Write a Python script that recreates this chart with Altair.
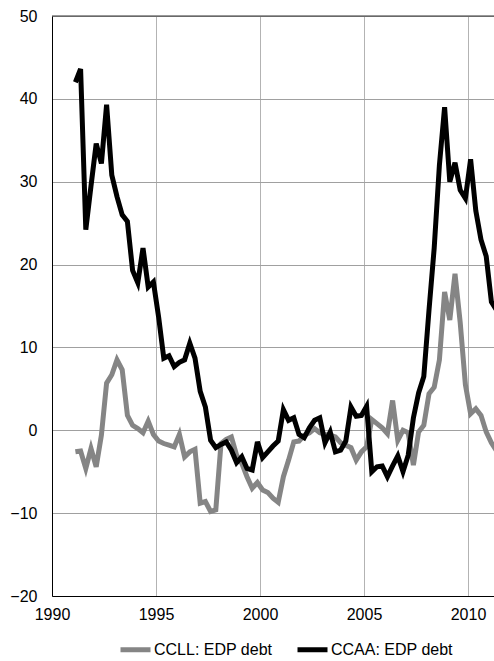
import altair as alt
import pandas as pd

series_names = ["CCLL: EDP debt", "CCAA: EDP debt"]

# quarterly observations, 1991Q1 onward
ccaa = [42.0, 43.6, 24.2, 29.5, 34.6, 32.2, 39.3, 30.8, 28.2, 26.0,
        25.2, 19.3, 17.8, 22.0, 17.3, 17.9, 13.7, 8.7, 9.0, 7.7,
        8.2, 8.5, 10.5, 8.7, 4.7, 2.8, -1.2, -2.1, -1.7, -1.4,
        -2.4, -3.9, -3.2, -4.6, -4.8, -1.4, -3.3, -2.6, -1.9, -1.3,
        2.5, 1.2, 1.5, -0.5, -0.9, 0.3, 1.2, 1.5, -1.5, -0.2,
        -2.6, -2.4, -1.3, 2.8, 1.7, 1.8, 2.9, -5.0, -4.4, -4.3,
        -5.6, -4.3, -3.1, -5.0, -3.0, 1.5, 4.5, 6.5, 14.5, 22.0,
        32.0, 39.0, 30.0, 32.3, 29.0, 28.0, 32.7, 26.5, 23.0, 21.0,
        15.5, 14.5]

ccll = [-2.6, -2.5, -4.6, -2.2, -4.4, -0.6, 5.7, 6.7, 8.5, 7.3,
        1.8, 0.6, 0.2, -0.3, 1.1, -0.5, -1.3, -1.6, -1.8, -2.0,
        -0.5, -3.2, -2.6, -2.3, -8.8, -8.6, -9.8, -9.6, -1.6, -1.1,
        -0.8, -3.0, -4.0, -5.6, -7.0, -6.3, -7.2, -7.5, -8.2, -8.7,
        -5.6, -3.6, -1.4, -1.3, -0.6, -0.3, 0.2, -0.3, -0.5, -0.6,
        -0.8, -1.5, -1.8, -2.1, -3.6, -2.6, -2.0, 1.3, 0.8, 0.3,
        -0.4, 3.6, -1.2, 0.0, -0.3, -4.2, -0.2, 0.6, 4.4, 5.2,
        8.5, 16.7, 13.3, 18.9, 13.0, 5.5, 2.0, 2.6, 1.8, -0.2,
        -1.5, -2.5]

quarters = [f"{1991 + i // 4}Q{i % 4 + 1}" for i in range(len(ccaa))]

x_ticks = [1990, 1995, 2000, 2005, 2010]
y_ticks = [-20, -10, 0, 10, 20, 30, 40, 50]


def qpos(q):
    y, n = q.split("Q")
    return int(y) + (int(n) - 1) / 4 + 0.125


rows = []
for q, a, l in zip(quarters, ccaa, ccll):
    rows.append({"t": qpos(q), "v": l, "series": series_names[0]})
    rows.append({"t": qpos(q), "v": a, "series": series_names[1]})
df = pd.DataFrame(rows)

FONT = "Liberation Sans"

xscale = alt.Scale(domain=[1990, 2011.25], nice=False, zero=False)
yscale = alt.Scale(domain=[-20, 50], nice=False, zero=False)
cscale = alt.Scale(domain=series_names, range=["#858585", "#000000"])

xaxis = alt.Axis(values=x_ticks, format="d", title=None, grid=True,
                 gridColor="#b3b3b3", gridWidth=1, ticks=False,
                 domainColor="#000000", domainWidth=1,
                 labelFont=FONT, labelFontSize=16, labelColor="#000000",
                 labelPadding=10, labelFlush=False)
yaxis = alt.Axis(values=y_ticks, title=None, grid=True,
                 gridColor="#a0a0a0", gridWidth=1, ticks=False,
                 domainColor="#000000", domainWidth=1,
                 labelFont=FONT, labelFontSize=16, labelColor="#000000",
                 labelPadding=15, labelFlush=False)

legend = alt.Legend(title=None, orient="none", legendX=66, legendY=616,
                    direction="horizontal", columns=2,
                    symbolType="stroke", symbolStrokeWidth=5, symbolSize=900,
                    labelFont=FONT, labelFontSize=16, labelColor="#000000",
                    columnPadding=14, labelOffset=1)

base = alt.Chart(df)

gray = base.transform_filter(alt.datum.series == series_names[0]).mark_line(
    strokeWidth=5, clip=True
).encode(
    x=alt.X("t:Q", scale=xscale, axis=xaxis),
    y=alt.Y("v:Q", scale=yscale, axis=yaxis),
    color=alt.Color("series:N", scale=cscale, legend=legend,
                    sort=series_names),
)

black = base.transform_filter(alt.datum.series == series_names[1]).mark_line(
    strokeWidth=5, clip=True
).encode(
    x=alt.X("t:Q", scale=xscale),
    y=alt.Y("v:Q", scale=yscale),
    color=alt.Color("series:N", scale=cscale, legend=legend,
                    sort=series_names),
)

top = alt.Chart(pd.DataFrame({"v": [50]})).mark_rule(
    color="#333333", strokeWidth=1
).encode(y=alt.Y("v:Q", scale=yscale))

chart = alt.layer(gray, black, top).properties(
    width=442, height=580,
    autosize=alt.AutoSizeParams(type="none"),
    padding={"left": 52, "top": 16, "right": 0, "bottom": 65},
).configure_view(stroke=None).configure(background="#ffffff")

chart.save("out.html", embed_options={"renderer": "svg", "actions": False})
